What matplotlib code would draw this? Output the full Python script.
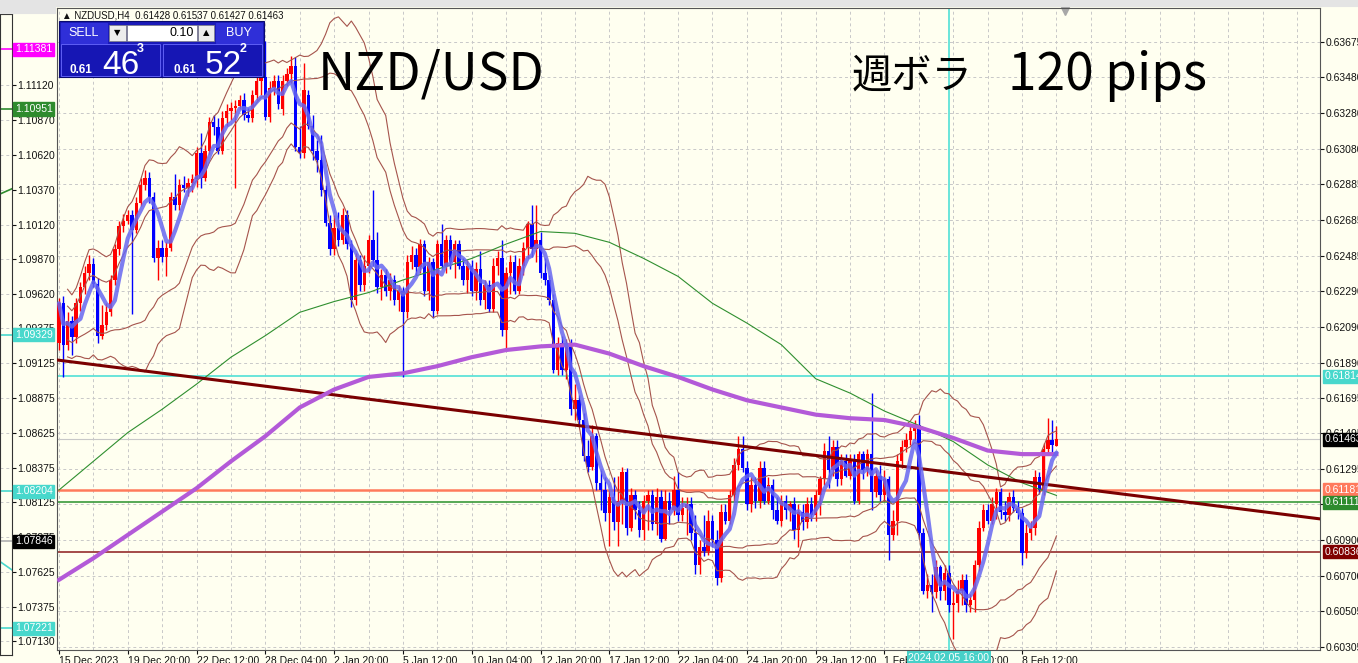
import numpy as np
import pandas as pd
import matplotlib
matplotlib.use("Agg")
import matplotlib.pyplot as plt
from matplotlib.patches import Rectangle
from matplotlib.transforms import blended_transform_factory

W, H = 1358, 663
plt.rcParams['font.family'] = ['Liberation Sans', 'DejaVu Sans']
JP = ['Noto Sans CJK JP', 'DejaVu Sans']

# NZDUSD H4 candles, prices in pips (x 1e-4)
opens = [
    6200, 6222, 6199, 6212, 6203, 6222, 6231, 6239, 6244, 6233,
    6204, 6210, 6217, 6235, 6252, 6265, 6268, 6271, 6263, 6278,
    6288, 6292, 6281, 6247, 6253, 6248, 6253, 6281, 6277, 6288,
    6286, 6289, 6291, 6306, 6292, 6307, 6323, 6320, 6307, 6325,
    6329, 6331, 6332, 6335, 6327, 6325, 6338, 6346, 6348, 6326,
    6342, 6346, 6330, 6346, 6350, 6354, 6309, 6306, 6338, 6321,
    6307, 6302, 6285, 6267, 6252, 6264, 6257, 6271, 6255, 6224,
    6246, 6232, 6243, 6257, 6246, 6231, 6238, 6229, 6235, 6224,
    6229, 6217, 6245, 6249, 6242, 6255, 6229, 6245, 6218, 6255,
    6243, 6257, 6245, 6255, 6243, 6235, 6243, 6229, 6241, 6224,
    6232, 6219, 6243, 6247, 6207, 6239, 6245, 6229, 6243, 6253,
    6266, 6252, 6257, 6239, 6235, 6224, 6185, 6200, 6185, 6199,
    6163, 6168, 6157, 6137, 6131, 6148, 6122, 6118, 6105, 6114,
    6100, 6112, 6128, 6097, 6115, 6107, 6096, 6112, 6115, 6099,
    6114, 6091, 6112, 6107, 6118, 6104, 6108, 6110, 6094, 6076,
    6086, 6084, 6101, 6090, 6069, 6106, 6101, 6115, 6132, 6141,
    6130, 6110, 6121, 6112, 6130, 6112, 6121, 6107, 6101, 6112,
    6107, 6110, 6096, 6106, 6100, 6110, 6104, 6115, 6124, 6140,
    6129, 6142, 6124, 6134, 6126, 6134, 6112, 6138, 6129, 6138,
    6117, 6126, 6115, 6124, 6093, 6101, 6134, 6142, 6146, 6151,
    6154, 6094, 6062, 6065, 6061, 6075, 6062, 6072, 6054, 6055,
    6062, 6068, 6054, 6057, 6076, 6097, 6107, 6101, 6110, 6117,
    6106, 6104, 6114, 6108, 6105, 6083, 6094, 6097, 6125, 6118,
    6141, 6146, 6142.8,
]
highs = [
    6225, 6226, 6217, 6215, 6225, 6234, 6243, 6249, 6247, 6236,
    6221, 6222, 6238, 6255, 6268, 6272, 6274, 6274, 6281, 6292,
    6296, 6295, 6284, 6257, 6257, 6256, 6284, 6294, 6291, 6293,
    6292, 6294, 6309, 6317, 6310, 6326, 6327, 6325, 6329, 6333,
    6334, 6335, 6338, 6339, 6331, 6341, 6351, 6353, 6368, 6346,
    6349, 6349, 6349, 6353, 6360, 6359, 6321, 6356, 6341, 6327,
    6313, 6316, 6288, 6271, 6271, 6273, 6275, 6274, 6257, 6250,
    6249, 6249, 6260, 6285, 6262, 6241, 6241, 6239, 6238, 6232,
    6231, 6249, 6254, 6253, 6258, 6257, 6248, 6247, 6257, 6266,
    6260, 6260, 6257, 6257, 6247, 6246, 6246, 6245, 6251, 6235,
    6235, 6247, 6251, 6257, 6242, 6249, 6249, 6247, 6256, 6268,
    6277, 6277, 6262, 6247, 6238, 6227, 6203, 6204, 6202, 6202,
    6177, 6171, 6161, 6146, 6154, 6150, 6129, 6125, 6118, 6125,
    6126, 6131, 6130, 6119, 6118, 6112, 6115, 6118, 6118, 6119,
    6118, 6118, 6117, 6126, 6128, 6114, 6114, 6114, 6104, 6090,
    6104, 6107, 6104, 6096, 6110, 6110, 6118, 6136, 6148, 6148,
    6134, 6125, 6125, 6134, 6134, 6125, 6124, 6114, 6115, 6115,
    6112, 6114, 6110, 6110, 6114, 6114, 6118, 6126, 6144, 6148,
    6146, 6146, 6138, 6138, 6138, 6138, 6140, 6140, 6141, 6172,
    6129, 6132, 6129, 6126, 6107, 6138, 6146, 6150, 6154, 6157,
    6160, 6097, 6071, 6071, 6079, 6076, 6076, 6076, 6062, 6068,
    6071, 6071, 6060, 6079, 6101, 6110, 6110, 6114, 6119, 6119,
    6112, 6117, 6118, 6112, 6108, 6099, 6101, 6129, 6128, 6144,
    6158, 6157, 6153.7,
]
lows = [
    6196, 6181, 6196, 6193, 6200, 6218, 6227, 6235, 6231, 6200,
    6202, 6207, 6215, 6232, 6249, 6262, 6266, 6216, 6261, 6276,
    6285, 6278, 6245, 6235, 6245, 6237, 6251, 6274, 6274, 6284,
    6282, 6284, 6287, 6286, 6290, 6305, 6316, 6305, 6305, 6321,
    6324, 6286, 6330, 6324, 6323, 6323, 6335, 6338, 6324, 6323,
    6338, 6330, 6327, 6343, 6345, 6307, 6303, 6303, 6319, 6302,
    6295, 6282, 6265, 6249, 6249, 6254, 6255, 6252, 6220, 6221,
    6229, 6229, 6239, 6243, 6228, 6224, 6226, 6224, 6221, 6218,
    6181, 6214, 6241, 6238, 6239, 6226, 6224, 6214, 6216, 6241,
    6239, 6241, 6236, 6241, 6232, 6228, 6226, 6224, 6221, 6219,
    6217, 6217, 6238, 6204, 6196, 6227, 6227, 6227, 6238, 6247,
    6248, 6245, 6236, 6232, 6221, 6183, 6182, 6182, 6180, 6160,
    6157, 6154, 6134, 6128, 6129, 6118, 6107, 6101, 6087, 6096,
    6087, 6099, 6093, 6095, 6102, 6092, 6090, 6096, 6096, 6093,
    6089, 6090, 6099, 6104, 6101, 6101, 6093, 6090, 6071, 6071,
    6081, 6082, 6086, 6065, 6067, 6099, 6099, 6112, 6129, 6128,
    6107, 6106, 6108, 6108, 6110, 6110, 6102, 6099, 6098, 6102,
    6101, 6091, 6086, 6096, 6097, 6101, 6101, 6104, 6121, 6119,
    6126, 6120, 6121, 6125, 6124, 6110, 6110, 6124, 6126, 6107,
    6114, 6112, 6112, 6079, 6090, 6093, 6130, 6139, 6143, 6146,
    6091, 6060, 6058, 6050, 6058, 6057, 6057, 6050, 6035, 6050,
    6054, 6050, 6050, 6050, 6073, 6095, 6099, 6099, 6102, 6102,
    6101, 6101, 6106, 6102, 6076, 6080, 6090, 6093, 6116, 6115,
    6138, 6139, 6142.7,
]
closes = [
    6222, 6199, 6212, 6203, 6222, 6231, 6239, 6244, 6233, 6204,
    6210, 6217, 6235, 6252, 6265, 6268, 6271, 6263, 6278, 6288,
    6292, 6281, 6247, 6253, 6248, 6253, 6281, 6277, 6288, 6286,
    6289, 6291, 6306, 6292, 6307, 6323, 6320, 6307, 6325, 6329,
    6331, 6332, 6335, 6327, 6325, 6338, 6346, 6348, 6326, 6342,
    6346, 6333, 6346, 6350, 6354, 6309, 6306, 6341, 6321, 6307,
    6302, 6285, 6267, 6252, 6264, 6257, 6271, 6255, 6224, 6246,
    6232, 6243, 6257, 6246, 6231, 6238, 6229, 6235, 6224, 6229,
    6217, 6245, 6249, 6242, 6255, 6229, 6245, 6218, 6255, 6243,
    6257, 6245, 6255, 6243, 6235, 6243, 6229, 6241, 6224, 6232,
    6219, 6243, 6247, 6207, 6239, 6245, 6229, 6243, 6253, 6266,
    6252, 6257, 6239, 6235, 6224, 6185, 6200, 6185, 6199, 6163,
    6168, 6157, 6137, 6131, 6148, 6122, 6118, 6105, 6114, 6100,
    6112, 6128, 6097, 6115, 6107, 6096, 6112, 6115, 6099, 6114,
    6091, 6112, 6107, 6118, 6104, 6108, 6110, 6094, 6076, 6086,
    6084, 6101, 6090, 6069, 6106, 6101, 6115, 6132, 6141, 6130,
    6110, 6121, 6112, 6130, 6112, 6121, 6107, 6101, 6112, 6107,
    6110, 6096, 6106, 6100, 6110, 6104, 6115, 6124, 6140, 6129,
    6142, 6124, 6134, 6126, 6134, 6112, 6138, 6129, 6138, 6117,
    6126, 6115, 6124, 6093, 6101, 6134, 6142, 6146, 6151, 6154,
    6094, 6062, 6065, 6061, 6075, 6062, 6072, 6054, 6055, 6062,
    6068, 6054, 6057, 6076, 6097, 6107, 6101, 6110, 6117, 6106,
    6104, 6114, 6108, 6105, 6083, 6094, 6097, 6125, 6118, 6141,
    6146, 6143, 6146.3,
]

# long moving averages read every 8 bars (pips)
ma_bars = list(range(0, 233, 8))
ma_purple = [6068, 6080, 6093, 6106, 6119, 6134, 6148, 6164, 6174, 6181,
             6183, 6187, 6192, 6196, 6198, 6199, 6194, 6187, 6181, 6174,
             6168, 6164, 6160, 6158, 6157, 6153, 6147, 6140, 6138, 6138]
ma_green = [6118, 6134, 6150, 6163, 6177, 6192, 6204, 6217, 6223, 6228,
            6235, 6241, 6247, 6255, 6262, 6261, 6256, 6247, 6237, 6222,
            6211, 6199, 6180, 6172, 6162, 6154, 6145, 6132, 6122, 6115]

trend_pts = [(0, 0.61903), (232, 0.61204)]
hlines = [(0.61814, '#5ee3d8', 1.3), (0.61463, '#c8c8c8', 0.8),
          (0.61181, '#ff7a5c', 1.8), (0.61111, '#3a9a3a', 1.2),
          (0.60836, '#8b1a1a', 1.1)]
vline_bar = 207
price_tags = [(0.61814, '#48d8cc'), (0.61463, '#000000'), (0.61181, '#ff7a5c'),
              (0.61111, '#2e8b2e'), (0.60836, '#800000')]
y_ticks = [0.63675, 0.63480, 0.63280, 0.63080, 0.62885, 0.62685, 0.62485, 0.62290,
           0.62090, 0.61890, 0.61695, 0.61495, 0.61295, 0.61100, 0.60900, 0.60700,
           0.60505, 0.60305]
date_bars = list(range(0, 225, 16))
date_labels = ["15 Dec 2023", "19 Dec 20:00", "22 Dec 12:00", "28 Dec 04:00",
               "2 Jan 20:00", "5 Jan 12:00", "10 Jan 04:00", "12 Jan 20:00",
               "17 Jan 12:00", "22 Jan 04:00", "24 Jan 20:00", "29 Jan 12:00",
               "1 Feb 04:00", "5 Feb 20:00", "8 Feb 12:00"]

# left (other pair) panel
left_ticks = [1.11120, 1.10870, 1.10620, 1.10370, 1.10120, 1.09870, 1.09620, 1.09375,
              1.09125, 1.08875, 1.08625, 1.08375, 1.08125, 1.07875, 1.07625, 1.07375, 1.07130]
left_tags = [(1.11381, '#ff00ff'), (1.10951, '#2e8b2e'), (1.09329, '#48d8cc'),
             (1.08204, '#48d8cc'), (1.07846, '#000000'), (1.07221, '#48d8cc')]


def fx(x):
    return x / W


def fy(y):
    return 1 - y / H


fig = plt.figure(figsize=(W / 100, H / 100), dpi=100, facecolor='#fffff0')

# ---- main chart
ax = fig.add_axes([fx(57), fy(650), fx(1320) - fx(57), fy(8) - fy(650)])
ax.set_facecolor('#fffff0')
ax.set_xlim(-0.46, 293.3)
ax.set_ylim(0.60289, 0.63865)

for g in range(0, 294, 8):
    ax.axvline(g, color='#c8c8c8', lw=0.7, ls=(0, (3, 3)), zorder=0)
for t in y_ticks:
    ax.axhline(t, color='#c8c8c8', lw=0.7, ls=(0, (3, 3)), zorder=0)

for val, col, lw in hlines:
    ax.axhline(val, color=col, lw=lw, zorder=1)
ax.axvline(vline_bar, color='#5ee3d8', lw=1.3, zorder=1)

o = np.array(opens) / 1e4
h = np.array(highs) / 1e4
l = np.array(lows) / 1e4
c = np.array(closes) / 1e4
xs = np.arange(len(c))
cols = np.where(c >= o, '#ff0000', '#0000ff')
ax.vlines(xs, l, h, colors=cols, lw=1.0, zorder=3)
ax.bar(xs, np.maximum(np.abs(c - o), 0.00003), bottom=np.minimum(o, c),
       width=0.8, color=cols, lw=0, zorder=3)

# Bollinger bands (20, +-1 and +-2 sigma) and 5-bar average from the closes
cs = pd.Series(c)
mid = cs.rolling(20, min_periods=3).mean()
sd = cs.rolling(20, min_periods=3).std(ddof=0)
for k in (1, 2):
    ax.plot(xs, mid + k * sd, color='#a5544c', lw=0.8, zorder=4)
    ax.plot(xs, mid - k * sd, color='#a5544c', lw=0.8, zorder=4)

ax.plot(ma_bars, np.array(ma_green) / 1e4, color='#2f8f2f', lw=0.8, zorder=4)
ax.plot(ma_bars, np.array(ma_purple) / 1e4, color='#b35ad8', lw=3, zorder=5)
ax.plot(xs, cs.rolling(5, min_periods=1).mean(), color='#6767f0', lw=3,
        alpha=0.85, zorder=5, solid_capstyle='round')
ax.axline(trend_pts[0], trend_pts[1], color='#7a0000', lw=2.2, zorder=4)

ax.yaxis.tick_right()
ax.set_yticks(y_ticks)
ax.set_yticklabels([f"{t:.5f}" for t in y_ticks])
ax.set_xticks(date_bars)
ax.set_xticklabels(date_labels)
for lab in ax.get_xticklabels():
    lab.set_ha('left')
ax.tick_params(axis='y', labelsize=7.5, length=3, pad=1, colors='#111111')
ax.tick_params(axis='x', labelsize=7.5, length=3, pad=1, colors='#111111')
for sp in ax.spines.values():
    sp.set_color('#555555')
    sp.set_linewidth(0.8)

tr = blended_transform_factory(ax.transAxes, ax.transData)
for val, col in price_tags:
    ax.text(1.004, val, f"{val:.5f}", transform=tr, ha='left', va='center',
            fontsize=7.5, color='white', zorder=10, clip_on=False,
            bbox=dict(boxstyle='square,pad=0.15', fc=col, ec=col))
trx = blended_transform_factory(ax.transData, ax.transAxes)
ax.text(vline_bar, -0.004, "2024.02.05 16:00", transform=trx, ha='center', va='top',
        fontsize=7.5, color='white', zorder=10, clip_on=False,
        bbox=dict(boxstyle='square,pad=0.15', fc='#48d0c8', ec='none'))
ax.plot([234], [0.995], transform=trx, marker='v', ms=6, color='#a8a8a8', clip_on=False)

# ---- left partial panel
axl = fig.add_axes([0, fy(655), fx(12), fy(14) - fy(655)])
axl.set_facecolor('#fffff0')
axl.set_xlim(0, 1)
axl.set_ylim(1.07029, 1.11633)
for t in left_ticks:
    axl.axhline(t, color='#c8c8c8', lw=0.7, ls=(0, (3, 3)), zorder=0)
for val, col in left_tags:
    axl.axhline(val, color=col if col != '#000000' else '#b0b0b0', lw=1.2)
axl.plot([0, 1], [1.10340, 1.10378], color='#2e8b2e', lw=1.2)
axl.plot([0, 1], [1.07700, 1.07640], color='#48d8cc', lw=1.2)
axl.yaxis.tick_right()
axl.set_yticks(left_ticks)
axl.set_yticklabels([f"{t:.5f}" for t in left_ticks])
axl.set_xticks([])
axl.tick_params(axis='y', labelsize=7.5, length=3, pad=1, colors='#111111')
for sp in axl.spines.values():
    sp.set_color('#333333')
    sp.set_linewidth(0.8)
trl = blended_transform_factory(axl.transAxes, axl.transData)
for val, col in left_tags:
    axl.text(1.25, val, f"{val:.5f}", transform=trl, ha='left', va='center',
             fontsize=7.5, color='white', zorder=10, clip_on=False,
             bbox=dict(boxstyle='square,pad=0.15', fc=col, ec=col))


# ---- window chrome and trade panel
def rect(x0, y0, x1, y1, fc, ec=None, lw=0.8, z=20):
    fig.add_artist(Rectangle((fx(x0), fy(y1)), fx(x1) - fx(x0), fy(y0) - fy(y1),
                             transform=fig.transFigure, facecolor=fc,
                             edgecolor=ec if ec else fc, lw=lw, zorder=z))


rect(0, 0, W, 6, '#e4e4e4', z=1)
rect(0, 6, 55, 13, '#e4e4e4', z=1)

rect(59, 21, 264, 77, '#1a1ab8', ec='#0a0a70', z=20)
rect(61, 23, 107, 43, '#2f2fd8', z=21)
rect(216, 23, 262, 43, '#2f2fd8', z=21)
rect(109, 25, 126, 41, '#ececec', ec='#808080', lw=0.5, z=21)
rect(127, 25, 197, 41, '#ffffff', ec='#808080', lw=0.5, z=21)
rect(198, 25, 214, 41, '#ececec', ec='#808080', lw=0.5, z=21)
rect(61, 44, 160, 76, '#1616b4', ec='#6a6aff', lw=0.6, z=21)
rect(163, 44, 262, 76, '#1616b4', ec='#6a6aff', lw=0.6, z=21)

fig.text(fx(62), fy(16), "▲ NZDUSD,H4  0.61428 0.61537 0.61427 0.61463",
         fontsize=7, va='center', ha='left', color='#111111', zorder=22)
fig.text(fx(84), fy(33), "SELL", fontsize=9, color='white', ha='center', va='center', zorder=22)
fig.text(fx(239), fy(33), "BUY", fontsize=9, color='white', ha='center', va='center', zorder=22)
fig.text(fx(117.5), fy(33), "▼", fontsize=6, color='black', ha='center', va='center', zorder=22,
         family=['DejaVu Sans'])
fig.text(fx(206), fy(33), "▲", fontsize=6, color='black', ha='center', va='center', zorder=22,
         family=['DejaVu Sans'])
fig.text(fx(194), fy(33), "0.10", fontsize=9, color='black', ha='right', va='center', zorder=22)
for x0, big, small in [(70, "46", "3"), (173, "52", "2")]:
    fig.text(fx(x0), fy(73), "0.61", fontsize=8.5, weight='bold', color='white',
             ha='left', va='baseline', zorder=22)
    fig.text(fx(x0 + 32), fy(74), big, fontsize=24, color='white',
             ha='left', va='baseline', zorder=22)
    fig.text(fx(x0 + 67), fy(52), small, fontsize=9, weight='bold', color='white',
             ha='left', va='baseline', zorder=22)

fig.text(fx(318), fy(75), "NZD/USD", fontsize=37, family=JP, color='black',
         ha='left', va='center', zorder=22)
fig.text(fx(852), fy(76), "週ボラ", fontsize=29, family=JP, color='black',
         ha='left', va='center', zorder=22)
fig.text(fx(1008), fy(75), "120 pips", fontsize=37, family=JP, color='black',
         ha='left', va='center', zorder=22)

fig.savefig("out.png", dpi=100, facecolor=fig.get_facecolor())
